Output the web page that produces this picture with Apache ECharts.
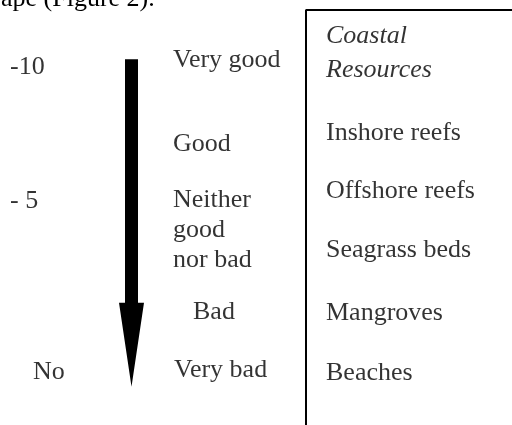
<!DOCTYPE html>
<html>
<head>
<meta charset="utf-8">
<script src="https://cdn.jsdelivr.net/npm/echarts@6/dist/echarts.min.js"></script>
<style>
html, body { margin: 0; padding: 0; background: #fff; }
#chart { width: 512px; height: 425px; }
</style>
</head>
<body>
<div id="chart"></div>
<script>
// rows are measured on the hidden vertical axis, one unit per resource line
var captionText = 'ape (Figure 2).';
var scaleLabels = ['-10', '- 5', 'No'];
var scaleRows = [0.9, 3.13, 5.98];
var ratingLabels = ['Very good', 'Good', 'Neither\ngood\nnor bad', 'Bad', 'Very bad'];
var ratingRows = [0.79, 2.18, 3.62, 4.98, 5.95];
var resourceLabels = ['Coastal\nResources', 'Inshore reefs', 'Offshore reefs', 'Seagrass beds', 'Mangroves', 'Beaches'];
var resourceRows = [0.67, 2, 2.97, 3.95, 5, 6];
var arrowRows = [0.77, 4.83, 6.23]; // shaft top, head start, tip
var frameRows = [-0.05, 7.2];

var chart = echarts.init(document.getElementById('chart'));
var font = '"Liberation Serif", "Times New Roman", serif';

// column layout
var cols = { scale: 10, arrow: 131.5, rating: 173, resource: 326, frame: 306 };
var indent = { 'No': 23, 'Bad': 20, 'Very bad': 1 };

function textSeries(labels, rows, x, extra) {
	return {
		type: 'scatter',
		symbolSize: 0,
		clip: false,
		silent: true,
		data: labels.map(function (name, i) {
			var item = { name: name, value: [x + (indent[name] || 0), rows[i]] };
			if (extra && extra[name]) item.label = extra[name];
			return item;
		}),
		label: {
			show: true,
			position: 'right',
			distance: 0,
			formatter: '{b}',
			color: '#000',
			fontFamily: font,
			fontSize: 26,
			lineHeight: 30,
			align: 'left',
			verticalAlign: 'middle'
		}
	};
}

chart.setOption({
	animation: false,
	backgroundColor: '#fff',
	grid: { left: 0, right: 0, top: 13, bottom: 52 },
	xAxis: { type: 'value', min: 0, max: 512, show: false },
	yAxis: { type: 'value', min: 0, max: 6, inverse: true, show: false },
	graphic: [{
		type: 'text',
		x: 1,
		y: -1,
		style: { text: captionText, font: '26px ' + font, fill: '#000', verticalAlign: 'middle' }
	}],
	series: [
		textSeries(scaleLabels, scaleRows, cols.scale),
		textSeries(ratingLabels, ratingRows, cols.rating),
		textSeries(resourceLabels, resourceRows, cols.resource, {
			'Coastal\nResources': { fontStyle: 'italic', lineHeight: 34 }
		}),
		{
			type: 'custom',
			clip: false,
			silent: true,
			data: [[cols.arrow, arrowRows[0], arrowRows[1], arrowRows[2]]],
			renderItem: function (params, api) {
				var top = api.coord([api.value(0), api.value(1)]);
				var neck = api.coord([api.value(0), api.value(2)]);
				var tip = api.coord([api.value(0), api.value(3)]);
				var cx = top[0], sw = 6.5, hw = 12.5;
				return {
					type: 'polygon',
					shape: { points: [
						[cx - sw, top[1]], [cx + sw, top[1]], [cx + sw, neck[1]],
						[cx + hw, neck[1]], [cx, tip[1]], [cx - hw, neck[1]], [cx - sw, neck[1]]
					] },
					style: { fill: '#000' }
				};
			}
		},
		{
			type: 'line',
			clip: false,
			silent: true,
			symbol: 'none',
			lineStyle: { color: '#000', width: 2 },
			data: [[cols.frame, frameRows[1]], [cols.frame, frameRows[0]], [530, frameRows[0]]]
		}
	]
});
</script>
</body>
</html>
